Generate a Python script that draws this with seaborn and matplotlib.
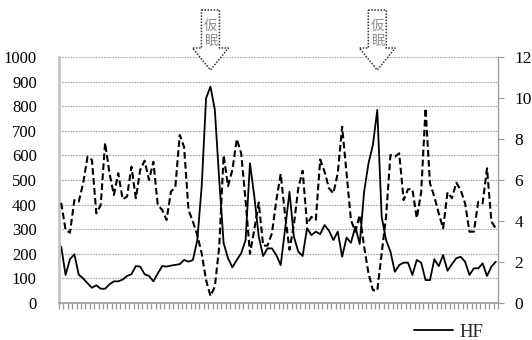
import numpy as np
import pandas as pd
import matplotlib
matplotlib.use("Agg")
import matplotlib.pyplot as plt
from matplotlib.patches import Polygon
from matplotlib.lines import Line2D
from matplotlib.transforms import blended_transform_factory
import seaborn as sns

# HF power (left axis) per epoch
hf = [229, 114, 178, 198, 115, 100, 80, 62, 72, 58,
      58, 76, 88, 88, 95, 110, 117, 150, 148, 117,
      110, 88, 120, 150, 148, 152, 155, 158, 175, 168,
      175, 255, 473, 832, 880, 785, 500, 243, 182, 145,
      175, 202, 256, 568, 432, 270, 191, 222, 222, 195,
      154, 300, 452, 270, 209, 191, 304, 276, 290, 280,
      317, 294, 256, 290, 188, 266, 245, 310, 240, 452,
      568, 642, 785, 351, 256, 209, 127, 154, 164, 164,
      114, 175, 164, 93, 93, 178, 150, 195, 131, 158,
      182, 188, 168, 114, 141, 141, 161, 110, 148, 168]

# LF/HF ratio (right axis) per epoch
lf_hf = [4.89, 3.56, 3.43, 5.02, 4.94, 5.84, 7.14, 6.98, 4.37, 4.78,
         7.82, 6.33, 5.27, 6.33, 5.06, 5.19, 6.65, 5.11, 6.49, 6.94,
         6.0, 6.89, 4.78, 4.54, 4.05, 5.43, 5.65, 8.2, 7.6, 4.54,
         3.97, 3.32, 2.42, 1.12, 0.34, 0.8, 2.75, 7.2, 5.7, 6.5,
         8.0, 7.3, 5.0, 2.4, 3.6, 4.9, 2.8, 2.8, 3.4, 5.0,
         6.3, 4.3, 2.6, 3.8, 5.6, 6.45, 3.85, 4.2, 4.06, 7.0,
         6.4, 5.6, 5.35, 6.33, 8.6, 6.33, 4.05, 3.48, 4.29, 2.75,
         1.45, 0.63, 0.6, 2.42, 4.21, 7.22, 7.14, 7.3, 5.02, 5.55,
         5.55, 4.14, 5.4, 9.5, 5.84, 5.19, 4.37, 3.64, 5.4, 5.11,
         5.87, 5.51, 4.86, 3.48, 3.48, 4.94, 4.86, 6.57, 3.97, 3.64]

# Epochs marked as naps
nap_epochs = [34, 72]
nap_label = "仮\n眠"

left_ticks = list(range(0, 1001, 100))
right_ticks = list(range(0, 13, 2))

epoch = np.arange(len(hf))
df = pd.DataFrame({"epoch": epoch, "HF": hf, "LF/HF": lf_hf})

sns.set_theme(style="white")
plt.rcParams["font.family"] = ["Liberation Serif", "Noto Sans CJK JP"]

fig = plt.figure(figsize=(5.32, 3.40), dpi=100)
ax = fig.add_axes([59 / 532, 37 / 340, 439 / 532, 246 / 340])
ax2 = ax.twinx()

grid_color = "#a8a8a8"
axis_color = "#9a9a9a"

sns.lineplot(data=df, x="epoch", y="HF", ax=ax, color="black", lw=1.3,
             label="HF", legend=False)
sns.lineplot(data=df, x="epoch", y="LF/HF", ax=ax2, color="black", lw=1.5,
             legend=False)
ax2.lines[0].set_dashes((3.2, 1.6))

ax.set_xlim(-0.5, len(hf) - 0.5)
ax.set_ylim(0, 1000)
ax2.set_ylim(0, 12)

ax.set_yticks(left_ticks)
ax.set_yticklabels([str(t) for t in left_ticks], fontsize=12)
ax2.set_yticks(right_ticks)
ax2.set_yticklabels([str(t) for t in right_ticks], fontsize=12.5)
ax.set_xticks(np.arange(-0.5, len(hf), 1.0))
ax.set_xticklabels([])
ax.set_xlabel("")
ax.set_ylabel("")
ax2.set_ylabel("")

for t in left_ticks[1:]:
    ax.axhline(t, color=grid_color, lw=0.8, ls=(0, (1.5, 1)), zorder=0)

ax.tick_params(axis="y", left=False, pad=10, colors="black", labelcolor="black")
ax.tick_params(axis="x", bottom=True, length=4, width=0.9, color=axis_color,
               direction="out")
ax2.tick_params(axis="y", right=True, length=4, width=0.8, color=axis_color,
                pad=8, labelcolor="black")

for a in (ax, ax2):
    for side in ("top", "left", "right", "bottom"):
        a.spines[side].set_visible(False)
ax.spines["left"].set_visible(True)
ax.spines["left"].set_color("#c4c4c4")
ax.spines["left"].set_linewidth(2.0)
ax.spines["bottom"].set_visible(True)
ax.spines["bottom"].set_color(axis_color)
ax.spines["bottom"].set_linewidth(1.2)
ax2.spines["right"].set_visible(True)
ax2.spines["right"].set_color(axis_color)
ax2.spines["right"].set_linewidth(0.9)

# Hollow dotted arrows marking the naps
trans = blended_transform_factory(ax.transData, ax.transAxes)
ax_h = 246.0
def ypx(p):
    return (303.0 - p) / ax_h

shaft = 9.0 / 4.39
head = 18.0 / 4.39
for e in nap_epochs:
    verts = [(e - shaft, ypx(10)), (e + shaft, ypx(10)), (e + shaft, ypx(48)),
             (e + head, ypx(48)), (e, ypx(70)), (e - head, ypx(48)),
             (e - shaft, ypx(48))]
    poly = Polygon(verts, closed=True, facecolor="white", edgecolor="#333333",
                   lw=1.1, ls=(0, (1, 1)), transform=trans, clip_on=False,
                   zorder=5)
    ax2.add_patch(poly)
    ax2.text(e, ypx(34), nap_label, transform=trans, ha="center", va="center",
             fontsize=9.5, color="#8a8a8a", linespacing=1.15,
             family=["Noto Sans CJK JP"], zorder=6, clip_on=False)

handle = Line2D([], [], color="black", lw=1.3)
fig.legend([handle], ["HF"], loc="center left",
           bbox_to_anchor=(414 / 532, 1 - 332 / 340), frameon=False,
           fontsize=13.5, handlelength=2.1, handletextpad=0.3,
           borderpad=0, borderaxespad=0)

fig.savefig("out.png", dpi=100)
